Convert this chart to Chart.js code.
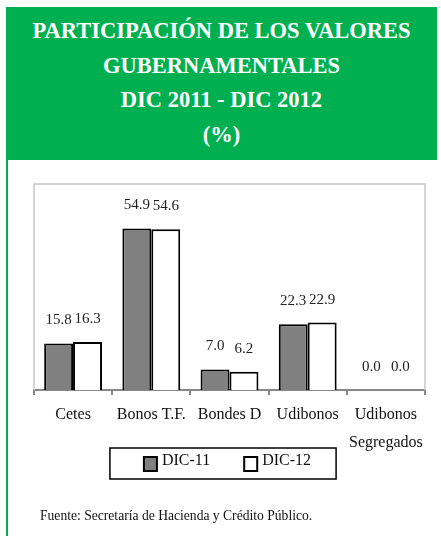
<!DOCTYPE html>
<html>
<head>
<meta charset="utf-8">
<script src="https://cdn.jsdelivr.net/npm/chart.js@4/dist/chart.umd.min.js"></script>
<style>
  html, body { margin: 0; padding: 0; background: #fff; }
  body { width: 441px; height: 536px; position: relative; overflow: hidden; font-family: "Liberation Serif", "DejaVu Serif", serif; }
  #wrap { position: absolute; left: 0; top: 0; width: 441px; height: 536px; }
  #header {
    position: absolute; left: 6px; top: 7px; width: 431px; height: 153px;
    background: #00b050; color: #fff; font-weight: bold; font-size: 22.5px;
    line-height: 34.5px; text-align: center; box-sizing: border-box; padding-top: 7px;
  }
  #side { position: absolute; left: 6px; top: 160px; width: 2px; height: 376px; background: #00b050; }
  #source { position: absolute; left: 40px; top: 508px; font-size: 13.6px; color: #111; white-space: nowrap; }
</style>
</head>
<body>
<div id="wrap"><canvas id="chart" width="441" height="536"></canvas></div>
<div id="header">PARTICIPACIÓN DE LOS VALORES<br>GUBERNAMENTALES<br>DIC 2011 - DIC 2012<br>(%)</div>
<div id="side"></div>
<div id="source">Fuente: Secretaría de Hacienda y Crédito Público.</div>
<script>
const categories = ['Cetes', 'Bonos T.F.', 'Bondes D', 'Udibonos', ['Udibonos', 'Segregados']];
const dic11 = [15.8, 54.9, 7.0, 22.3, 0.0];
const dic12 = [16.3, 54.6, 6.2, 22.9, 0.0];
const seriesNames = ['DIC-11', 'DIC-12'];

const serif = '"Liberation Serif", "DejaVu Serif", serif';

// gray frame on left, top, right of the plot area
const frame = {
  id: 'frame',
  beforeDatasetsDraw(chart) {
    const { ctx, chartArea: a } = chart;
    ctx.save();
    ctx.strokeStyle = '#c8c8c8';
    ctx.lineWidth = 1.5;
    ctx.beginPath();
    ctx.moveTo(a.left, a.bottom);
    ctx.lineTo(a.left, a.top);
    ctx.lineTo(a.right, a.top);
    ctx.lineTo(a.right, a.bottom);
    ctx.stroke();
    ctx.restore();
  }
};

// numbers above the bars
const valueLabels = {
  id: 'valueLabels',
  afterDatasetsDraw(chart) {
    const ctx = chart.ctx;
    ctx.save();
    ctx.font = '15px ' + serif;
    ctx.fillStyle = '#222';
    ctx.textAlign = 'center';
    ctx.textBaseline = 'middle';
    chart.data.datasets.forEach((ds, i) => {
      chart.getDatasetMeta(i).data.forEach((bar, j) => {
        ctx.fillText(ds.data[j].toFixed(1), bar.x, bar.y - 23);
      });
    });
    ctx.restore();
  }
};

// boxed legend under the axis labels
const boxLegend = {
  id: 'boxLegend',
  afterDraw(chart) {
    const ctx = chart.ctx;
    const a = chart.chartArea;
    const sets = chart.data.datasets;
    const bw = 13, bh = 14, gap = 5, between = 34;
    ctx.save();
    ctx.font = '16px ' + serif;
    const widths = sets.map(ds => bw + gap + ctx.measureText(ds.label).width);
    const total = widths.reduce((s, w) => s + w, 0) + between * (sets.length - 1);
    const cy = a.bottom + 74;
    let x = (a.left + a.right) / 2 - 2 - total / 2;
    ctx.strokeStyle = '#000';
    ctx.lineWidth = 1.5;
    ctx.strokeRect(x - 34, cy - 16, total + 59, 31);
    sets.forEach((ds, i) => {
      ctx.fillStyle = ds.backgroundColor;
      ctx.fillRect(x, cy - bh / 2, bw, bh);
      ctx.lineWidth = 2;
      ctx.strokeRect(x, cy - bh / 2, bw, bh);
      ctx.fillStyle = '#111';
      ctx.textBaseline = 'middle';
      ctx.fillText(ds.label, x + bw + gap, cy - 3);
      x += widths[i] + between;
    });
    ctx.restore();
  }
};

new Chart(document.getElementById('chart'), {
  type: 'bar',
  data: {
    labels: categories,
    datasets: [
      { label: seriesNames[0], data: dic11, backgroundColor: '#808080', borderColor: '#000', borderWidth: 2 },
      { label: seriesNames[1], data: dic12, backgroundColor: '#ffffff', borderColor: '#000', borderWidth: 2 }
    ]
  },
  options: {
    responsive: false,
    animation: false,
    layout: { padding: { top: 184, left: 34, right: 16, bottom: 80 } },
    datasets: { bar: { categoryPercentage: 0.74, barPercentage: 1 } },
    scales: {
      x: {
        afterFit(scale) { scale.height = 66; },
        grid: { display: true, drawOnChartArea: false, tickLength: 5, color: '#888', lineWidth: 2 },
        border: { display: true, color: '#888', width: 2 },
        ticks: { color: '#111', padding: 6, font: { family: serif, size: 16, lineHeight: 1.75 }, maxRotation: 0, autoSkip: false }
      },
      y: {
        display: false,
        min: 0,
        max: 70
      }
    },
    plugins: {
      legend: { display: false },
      tooltip: { enabled: false }
    }
  },
  plugins: [frame, valueLabels, boxLegend]
});
</script>
</body>
</html>
